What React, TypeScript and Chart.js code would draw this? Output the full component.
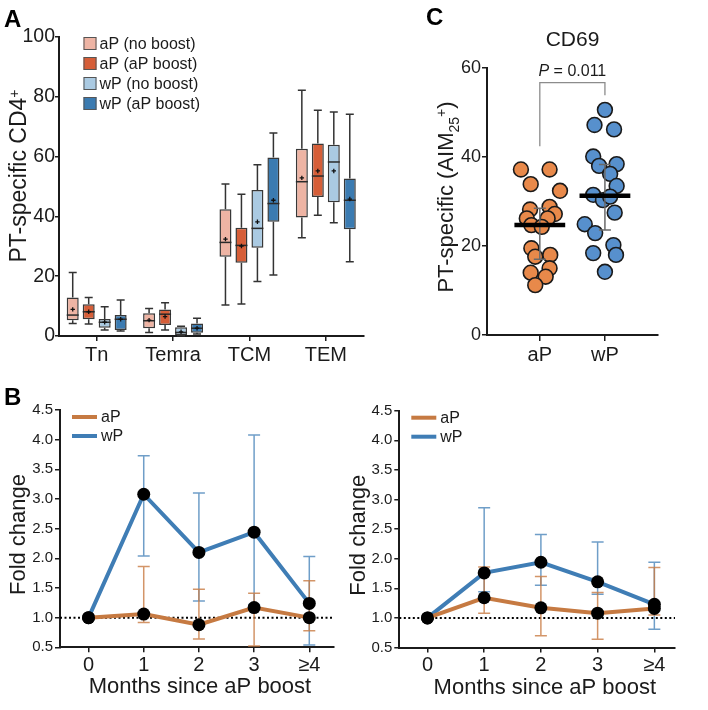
import React, { useEffect, useRef } from 'react';
import { Chart, registerables } from 'chart.js';

Chart.register(...registerables);

const FONT = 'Arial, "Liberation Sans", Helvetica, sans-serif';
const INK = '#1b1b1b';

// ---------------- Panel A data ----------------
const subsetLabels = ['Tn', 'Temra', 'TCM', 'TEM'];
const groupLabels = ['aP (no boost)', 'aP (aP boost)', 'wP (no boost)', 'wP (aP boost)'];
const groupColors = ['#EEB4A4', '#D65E38', '#AACAE2', '#3B7BB1'];
const yTicksA = [0, 20, 40, 60, 80, 100];
const boxMin = [
  [4.2, 1.2, 10.4, 32.9],
  [4.0, 2.0, 10.7, 40.4],
  [2.0, 0.1, 18.2, 37.9],
  [1.7, 0.7, 20.4, 24.8],
];
const boxQ1 = [
  [5.3, 2.6, 26.5, 39.6],
  [5.6, 3.7, 24.5, 46.5],
  [2.8, 0.3, 29.5, 44.7],
  [2.0, 1.1, 38.2, 35.7],
];
const boxMedian = [
  [7.0, 5.1, 31.3, 51.6],
  [8.1, 7.3, 30.3, 53.5],
  [4.6, 1.2, 36.0, 58.2],
  [5.6, 2.6, 44.3, 45.4],
];
const boxQ3 = [
  [12.9, 7.6, 42.4, 62.6],
  [10.6, 8.9, 36.2, 64.4],
  [5.7, 2.9, 48.8, 64.0],
  [7.0, 4.2, 59.7, 52.7],
];
const boxMax = [
  [21.2, 9.2, 50.8, 82.2],
  [12.9, 11.1, 47.4, 75.5],
  [9.8, 3.3, 57.3, 74.9],
  [12.0, 5.9, 67.9, 74.2],
];
const boxMean = [
  [8.9, 5.3, 32.4, 52.9],
  [8.1, 6.5, 30.1, 55.2],
  [4.6, 1.4, 38.2, 55.2],
  [5.6, 2.6, 45.4, 45.8],
];

// ---------------- Panel C data ----------------
const cohortLabels = ['aP', 'wP'];
const cohortColors = ['#E8894A', '#5790CD'];
const yTicksC = [0, 20, 40, 60];
const aPValues = [37.2, 37.2, 33.9, 32.4, 28.2, 28.8, 27.2, 26.2, 26.2, 24.7, 24.3, 19.5, 17.6, 18.0, 14.0, 15.0, 13.1, 11.2];
const aPJitter = [-0.29, 0.15, -0.14, 0.31, -0.15, 0.15, 0.23, -0.2, 0.12, -0.13, 0.03, -0.13, -0.07, 0.16, -0.14, 0.15, 0.09, -0.07];
const wPValues = [50.6, 47.2, 46.2, 40.1, 38.0, 38.4, 36.2, 33.5, 31.5, 30.3, 31.1, 27.5, 24.9, 22.9, 20.2, 18.4, 18.0, 14.2];
const wPJitter = [0.0, -0.16, 0.14, -0.18, -0.09, 0.18, 0.08, 0.18, -0.18, -0.03, 0.08, 0.15, -0.31, -0.15, 0.13, -0.18, 0.17, 0.0];
const cohortMedian = [24.7, 31.3];
const cohortQ1 = [17.0, 23.6];
const cohortQ3 = [28.5, 38.3];
const bracketTop = 56.7;
const bracketEnds = [42.4, 53.9];
const pValueText = '0.011';

// ---------------- Panel B data ----------------
const monthLabels = ['0', '1', '2', '3', '≥4'];
const yTicksB = [0.5, 1.0, 1.5, 2.0, 2.5, 3.0, 3.5, 4.0, 4.5];
const seriesNames = ['aP', 'wP'];
const lineColors = ['#C67A42', '#3F7DB5'];
const errColors = ['rgba(200,122,66,0.8)', 'rgba(63,125,181,0.75)'];
const leftAP = [1.0, 1.06, 0.88, 1.17, 1.0];
const leftAPUpper = [1.0, 1.86, 1.48, 1.41, 1.62];
const leftAPLower = [1.0, 0.92, 0.64, 0.52, 0.78];
const leftWP = [1.0, 3.08, 2.1, 2.44, 1.24];
const leftWPUpper = [1.0, 3.73, 3.1, 4.08, 2.03];
const leftWPLower = [1.0, 2.04, 1.28, 1.22, 0.54];
const rightAP = [1.0, 1.34, 1.17, 1.08, 1.16];
const rightAPUpper = [1.0, 1.86, 1.7, 1.43, 1.85];
const rightAPLower = [1.0, 1.08, 0.7, 0.64, 1.05];
const rightWP = [1.0, 1.76, 1.94, 1.61, 1.23];
const rightWPUpper = [1.0, 2.86, 2.41, 2.28, 1.94];
const rightWPLower = [1.0, 1.44, 1.55, 1.4, 0.81];
const baselineFold = 1.0;

// ---------------- helpers ----------------
type Part = { t: string; size: number; shift?: number; italic?: boolean };

function partsWidth(ctx: CanvasRenderingContext2D, parts: Part[]) {
  let total = 0;
  parts.forEach((p) => {
    ctx.font = `${p.italic ? 'italic ' : ''}${p.size}px ${FONT}`;
    total += ctx.measureText(p.t).width;
  });
  return total;
}

function drawParts(ctx: CanvasRenderingContext2D, parts: Part[], x0: number, base: number) {
  let x = x0;
  parts.forEach((p) => {
    ctx.font = `${p.italic ? 'italic ' : ''}${p.size}px ${FONT}`;
    ctx.fillText(p.t, x, base + (p.shift || 0));
    x += ctx.measureText(p.t).width;
  });
}

function drawVText(ctx: CanvasRenderingContext2D, cx: number, cy: number, parts: Part[]) {
  ctx.save();
  ctx.translate(cx, cy);
  ctx.rotate(-Math.PI / 2);
  ctx.fillStyle = INK;
  ctx.textAlign = 'left';
  ctx.textBaseline = 'alphabetic';
  const total = partsWidth(ctx, parts);
  drawParts(ctx, parts, -total / 2, (parts[0].size * 0.716) / 2);
  ctx.restore();
}

function drawHText(ctx: CanvasRenderingContext2D, cx: number, baseY: number, parts: Part[]) {
  ctx.save();
  ctx.fillStyle = INK;
  ctx.textAlign = 'left';
  ctx.textBaseline = 'alphabetic';
  const total = partsWidth(ctx, parts);
  drawParts(ctx, parts, cx - total / 2, baseY);
  ctx.restore();
}

const tickGrid = (len: number) => ({
  display: true,
  drawOnChartArea: false,
  drawTicks: true,
  tickLength: len,
  color: INK,
  lineWidth: 1.5,
});
const axisBorder = { display: true, color: INK, width: 2 };

// ---------------- Panel A ----------------
const boxPlotPlugin = {
  id: 'boxPlot',
  beforeDatasetsDraw(chart: any) {
    const { ctx } = chart;
    const ys = chart.scales.y;
    ctx.save();
    ctx.strokeStyle = '#333';
    ctx.lineWidth = 1.5;
    chart.data.datasets.forEach((_ds: any, g: number) => {
      chart.getDatasetMeta(g).data.forEach((bar: any, i: number) => {
        const x = bar.x;
        const yMax = ys.getPixelForValue(boxMax[g][i]);
        const yMin = ys.getPixelForValue(boxMin[g][i]);
        const yQ1 = ys.getPixelForValue(boxQ1[g][i]);
        const yQ3 = ys.getPixelForValue(boxQ3[g][i]);
        ctx.beginPath();
        ctx.moveTo(x, yMax);
        ctx.lineTo(x, yQ3);
        ctx.moveTo(x, yQ1);
        ctx.lineTo(x, yMin);
        ctx.moveTo(x - 4, yMax);
        ctx.lineTo(x + 4, yMax);
        ctx.moveTo(x - 4, yMin);
        ctx.lineTo(x + 4, yMin);
        ctx.stroke();
      });
    });
    ctx.restore();
  },
  afterDatasetsDraw(chart: any) {
    const { ctx } = chart;
    const ys = chart.scales.y;
    ctx.save();
    chart.data.datasets.forEach((_ds: any, g: number) => {
      chart.getDatasetMeta(g).data.forEach((bar: any, i: number) => {
        const x = bar.x;
        const w = bar.width;
        const yMed = ys.getPixelForValue(boxMedian[g][i]);
        const yMean = ys.getPixelForValue(boxMean[g][i]);
        ctx.strokeStyle = '#2a2a2a';
        ctx.lineWidth = 1.5;
        ctx.beginPath();
        ctx.moveTo(x - w / 2, yMed);
        ctx.lineTo(x + w / 2, yMed);
        ctx.stroke();
        ctx.lineWidth = 1.3;
        ctx.strokeStyle = '#111';
        ctx.beginPath();
        ctx.moveTo(x - 2.2, yMean);
        ctx.lineTo(x + 2.2, yMean);
        ctx.moveTo(x, yMean - 2.2);
        ctx.lineTo(x, yMean + 2.2);
        ctx.stroke();
      });
    });
    ctx.restore();
  },
  afterDraw(chart: any) {
    const { ctx, chartArea } = chart;
    ctx.save();
    groupLabels.forEach((lab, g) => {
      const cy = chartArea.top + 6.5 + g * 20;
      const bx = chartArea.left + 25;
      ctx.fillStyle = groupColors[g];
      ctx.fillRect(bx, cy - 6.5, 13, 13);
      ctx.strokeStyle = '#555';
      ctx.lineWidth = 1;
      ctx.strokeRect(bx + 0.5, cy - 6, 12, 12);
      ctx.fillStyle = INK;
      ctx.font = `16px ${FONT}`;
      ctx.textBaseline = 'middle';
      ctx.textAlign = 'left';
      ctx.fillText(lab, bx + 16, cy + 1);
    });
    ctx.restore();
    drawVText(ctx, 17.5, chartArea.top + 139, [
      { t: 'PT-specific CD4', size: 23 },
      { t: '+', size: 14, shift: -7 },
    ]);
  },
};

function buildA() {
  return {
    type: 'bar',
    data: {
      labels: subsetLabels,
      datasets: groupLabels.map((label, g) => ({
        label,
        data: boxQ1[g].map((v, i) => [v, boxQ3[g][i]]),
        backgroundColor: groupColors[g],
        borderColor: '#383838',
        borderWidth: 1.5,
        borderSkipped: false,
        categoryPercentage: 0.837,
        barPercentage: 0.75,
      })),
    },
    options: {
      responsive: false,
      animation: false,
      layout: { padding: { left: 0, top: 37, right: 8, bottom: 0 } },
      plugins: { legend: { display: false }, tooltip: { enabled: false } },
      scales: {
        x: {
          type: 'category',
          offset: true,
          grid: { ...tickGrid(5), offset: false },
          border: axisBorder,
          ticks: { color: INK, font: { family: FONT, size: 20 }, padding: 2, maxRotation: 0 },
          afterFit: (s: any) => {
            s.height = 39;
          },
        },
        y: {
          min: 0,
          max: 100,
          grid: tickGrid(3.5),
          border: axisBorder,
          ticks: { color: INK, font: { family: FONT, size: 19.5 }, padding: 0 },
          afterBuildTicks: (s: any) => {
            s.ticks = yTicksA.map((v) => ({ value: v }));
          },
          afterFit: (s: any) => {
            s.width = 58.5;
          },
        },
      },
    },
    plugins: [boxPlotPlugin],
  };
}

// ---------------- Panel C ----------------
const scatterPlugin = {
  id: 'scatterExtras',
  afterDatasetsDraw(chart: any) {
    const { ctx, chartArea } = chart;
    const xs = chart.scales.x;
    const ys = chart.scales.y;
    ctx.save();
    ctx.strokeStyle = '#6a6a6a';
    ctx.lineWidth = 1.5;
    cohortLabels.forEach((_c, k) => {
      const x = xs.getPixelForValue(k + 1);
      const y1 = ys.getPixelForValue(cohortQ1[k]);
      const y3 = ys.getPixelForValue(cohortQ3[k]);
      ctx.beginPath();
      ctx.moveTo(x, y1);
      ctx.lineTo(x, y3);
      ctx.moveTo(x - 6, y1);
      ctx.lineTo(x + 6, y1);
      ctx.moveTo(x - 6, y3);
      ctx.lineTo(x + 6, y3);
      ctx.stroke();
    });
    ctx.strokeStyle = '#000';
    ctx.lineWidth = 4.5;
    cohortLabels.forEach((_c, k) => {
      const y = ys.getPixelForValue(cohortMedian[k]);
      ctx.beginPath();
      ctx.moveTo(xs.getPixelForValue(k + 1 - 0.39), y);
      ctx.lineTo(xs.getPixelForValue(k + 1 + 0.39), y);
      ctx.stroke();
    });
    ctx.strokeStyle = '#8c8c8c';
    ctx.lineWidth = 1.3;
    const xa = xs.getPixelForValue(1);
    const xb = xs.getPixelForValue(2);
    const yt = ys.getPixelForValue(bracketTop);
    ctx.beginPath();
    ctx.moveTo(xa, ys.getPixelForValue(bracketEnds[0]));
    ctx.lineTo(xa, yt);
    ctx.lineTo(xb, yt);
    ctx.lineTo(xb, ys.getPixelForValue(bracketEnds[1]));
    ctx.stroke();
    ctx.restore();
    drawHText(ctx, (xa + xb) / 2, yt - 7, [
      { t: 'P', size: 16, italic: true },
      { t: ' = ' + pValueText, size: 16 },
    ]);
    drawHText(ctx, (chartArea.left + chartArea.right) / 2, chartArea.top - 22.5, [{ t: 'CD69', size: 21 }]);
    drawVText(ctx, 65, chartArea.top + 129, [
      { t: 'PT-specific (AIM', size: 22 },
      { t: '25', size: 14, shift: 6 },
      { t: '+', size: 14, shift: -7 },
      { t: ')', size: 22 },
    ]);
  },
};

function buildC() {
  const sets = [
    { values: aPValues, jitter: aPJitter },
    { values: wPValues, jitter: wPJitter },
  ];
  return {
    type: 'scatter',
    data: {
      datasets: sets.map((s, k) => ({
        label: cohortLabels[k],
        data: s.values.map((v, i) => ({ x: k + 1 + s.jitter[i], y: v })),
        backgroundColor: cohortColors[k],
        borderColor: '#1a1a1a',
        borderWidth: 1.6,
        pointRadius: 7.4,
      })),
    },
    options: {
      responsive: false,
      animation: false,
      layout: { padding: { left: 40, top: 68, right: 50, bottom: 0 } },
      plugins: { legend: { display: false }, tooltip: { enabled: false } },
      scales: {
        x: {
          type: 'linear',
          min: 0.189,
          max: 2.815,
          grid: tickGrid(6),
          border: axisBorder,
          ticks: {
            color: INK,
            font: { family: FONT, size: 20 },
            padding: 2,
            callback: (_v: any, i: number) => cohortLabels[i],
          },
          afterBuildTicks: (s: any) => {
            s.ticks = cohortLabels.map((_c, k) => ({ value: k + 1 }));
          },
          afterFit: (s: any) => {
            s.height = 40;
          },
        },
        y: {
          min: 0,
          max: 60,
          grid: tickGrid(5),
          border: axisBorder,
          ticks: { color: INK, font: { family: FONT, size: 18 }, padding: 1 },
          afterBuildTicks: (s: any) => {
            s.ticks = yTicksC.map((v) => ({ value: v }));
          },
          afterFit: (s: any) => {
            s.width = 67;
          },
        },
      },
    },
    plugins: [scatterPlugin],
  };
}

// ---------------- Panel B ----------------
function makeFoldPlugin(titleX: number, xTitleShift: number) {
  return {
    id: 'foldExtras',
    beforeDatasetsDraw(chart: any) {
      const { ctx, chartArea } = chart;
      const ys = chart.scales.y;
      ctx.save();
      const yb = ys.getPixelForValue(baselineFold);
      ctx.strokeStyle = '#000';
      ctx.lineWidth = 2;
      ctx.setLineDash([2, 2.5]);
      ctx.beginPath();
      ctx.moveTo(chartArea.left, yb);
      ctx.lineTo(chartArea.right, yb);
      ctx.stroke();
      ctx.setLineDash([]);
      const order = [1, 0];
      order.forEach((d) => {
        const ds = chart.data.datasets[d];
        ctx.strokeStyle = errColors[d];
        ctx.lineWidth = 1.5;
        chart.getDatasetMeta(d).data.forEach((pt: any, i: number) => {
          const up = ds.errUp[i];
          const lo = ds.errLow[i];
          if (up === lo) return;
          const yu = ys.getPixelForValue(up);
          const yl = ys.getPixelForValue(lo);
          ctx.beginPath();
          ctx.moveTo(pt.x, yu);
          ctx.lineTo(pt.x, yl);
          ctx.moveTo(pt.x - 6, yu);
          ctx.lineTo(pt.x + 6, yu);
          ctx.moveTo(pt.x - 6, yl);
          ctx.lineTo(pt.x + 6, yl);
          ctx.stroke();
        });
      });
      ctx.restore();
    },
    afterDraw(chart: any) {
      const { ctx, chartArea } = chart;
      const xs = chart.scales.x;
      ctx.save();
      seriesNames.forEach((name, k) => {
        const y = chartArea.top + 7 + k * 19;
        ctx.strokeStyle = lineColors[k];
        ctx.lineWidth = 4;
        ctx.beginPath();
        ctx.moveTo(chartArea.left + 12, y);
        ctx.lineTo(chartArea.left + 37, y);
        ctx.stroke();
        ctx.fillStyle = INK;
        ctx.font = `16px ${FONT}`;
        ctx.textBaseline = 'middle';
        ctx.textAlign = 'left';
        ctx.fillText(name, chartArea.left + 41, y + 1);
      });
      ctx.restore();
      drawVText(ctx, titleX, chartArea.top + 124.5, [{ t: 'Fold change', size: 22 }]);
      drawHText(ctx, xs.getPixelForValue(2) + xTitleShift, chartArea.bottom + 46, [
        { t: 'Months since aP boost', size: 22 },
      ]);
    },
  };
}

function buildB(
  ap: number[],
  apUp: number[],
  apLo: number[],
  wp: number[],
  wpUp: number[],
  wpLo: number[],
  opts: { padTop: number; padRight: number; axisW: number; axisH: number; xmin: number; xmax: number; titleX: number; shift: number }
) {
  const series = [
    { v: ap, up: apUp, lo: apLo },
    { v: wp, up: wpUp, lo: wpLo },
  ];
  return {
    type: 'line',
    data: {
      datasets: series.map((s, k) => ({
        label: seriesNames[k],
        data: s.v.map((v, i) => ({ x: i, y: v })),
        errUp: s.up,
        errLow: s.lo,
        borderColor: lineColors[k],
        borderWidth: 4,
        pointRadius: 6.5,
        pointBackgroundColor: '#000',
        pointBorderColor: '#000',
        pointBorderWidth: 0,
        tension: 0,
        clip: false,
      })),
    },
    options: {
      responsive: false,
      animation: false,
      layout: { padding: { left: 0, top: opts.padTop, right: opts.padRight, bottom: 0 } },
      plugins: { legend: { display: false }, tooltip: { enabled: false } },
      scales: {
        x: {
          type: 'linear',
          min: opts.xmin,
          max: opts.xmax,
          grid: tickGrid(5),
          border: axisBorder,
          ticks: {
            color: INK,
            font: { family: FONT, size: 20 },
            padding: 1,
            callback: (_v: any, i: number) => monthLabels[i],
          },
          afterBuildTicks: (s: any) => {
            s.ticks = monthLabels.map((_m, i) => ({ value: i }));
          },
          afterFit: (s: any) => {
            s.height = opts.axisH;
          },
        },
        y: {
          min: 0.5,
          max: 4.5,
          grid: tickGrid(5),
          border: axisBorder,
          ticks: {
            color: INK,
            font: { family: FONT, size: 15 },
            padding: 2,
            callback: (v: any) => Number(v).toFixed(1),
          },
          afterBuildTicks: (s: any) => {
            s.ticks = yTicksB.map((v) => ({ value: v }));
          },
          afterFit: (s: any) => {
            s.width = opts.axisW;
          },
        },
      },
    },
    plugins: [makeFoldPlugin(opts.titleX, opts.shift)],
  };
}

// ---------------- components ----------------
function ChartCanvas({ left, top, width, height, build }: { left: number; top: number; width: number; height: number; build: () => any }) {
  const ref = useRef<HTMLCanvasElement | null>(null);
  useEffect(() => {
    if (!ref.current) return;
    const chart = new Chart(ref.current, build());
    return () => chart.destroy();
  }, []);
  return (
    <canvas
      ref={ref}
      width={width}
      height={height}
      style={{ position: 'absolute', left, top, width, height }}
    />
  );
}

const letterStyle = (left: number, top: number): React.CSSProperties => ({
  position: 'absolute',
  left,
  top,
  fontFamily: FONT,
  fontWeight: 'bold',
  fontSize: 24,
  lineHeight: '24px',
  color: '#000',
});

export default function App() {
  return (
    <div
      style={{
        position: 'fixed',
        left: 0,
        top: 0,
        width: 708,
        height: 710,
        background: '#fff',
        overflow: 'hidden',
      }}
    >
      <ChartCanvas left={0} top={0} width={372} height={375} build={buildA} />
      <ChartCanvas left={380} top={0} width={328} height={375} build={buildC} />
      <ChartCanvas
        left={0}
        top={375}
        width={340}
        height={335}
        build={() =>
          buildB(leftAP, leftAPUpper, leftAPLower, leftWP, leftWPUpper, leftWPLower, {
            padTop: 35,
            padRight: 6.7,
            axisW: 60,
            axisH: 62.7,
            xmin: -0.517,
            xmax: 4.435,
            titleX: 16.7,
            shift: 1,
          })
        }
      />
      <ChartCanvas
        left={340}
        top={375}
        width={368}
        height={335}
        build={() =>
          buildB(rightAP, rightAPUpper, rightAPLower, rightWP, rightWPUpper, rightWPLower, {
            padTop: 35.7,
            padRight: 33,
            axisW: 59.3,
            axisH: 62.5,
            xmin: -0.496,
            xmax: 4.364,
            titleX: 17.5,
            shift: 4,
          })
        }
      />
      <div style={letterStyle(4, 7)}>A</div>
      <div style={letterStyle(426, 5)}>C</div>
      <div style={letterStyle(4, 385)}>B</div>
    </div>
  );
}
